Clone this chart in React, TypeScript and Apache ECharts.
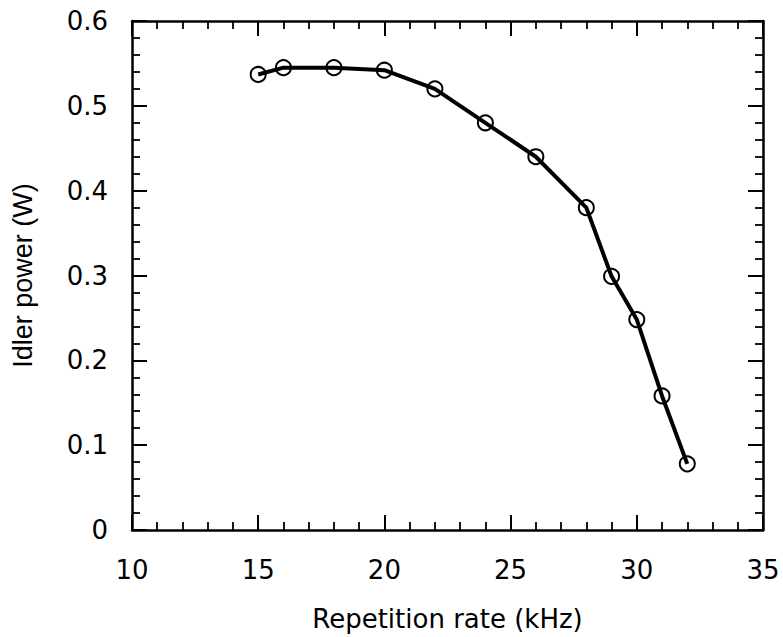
import React, { useEffect, useRef } from "react";
import * as echarts from "echarts";

const repRate = [15, 16, 18, 20, 22, 24, 26, 28, 29, 30, 31, 32];
const idlerPower = [0.537, 0.545, 0.545, 0.542, 0.52, 0.48, 0.44, 0.38, 0.299, 0.248, 0.158, 0.078];
const xTickLabels = ["10", "15", "20", "25", "30", "35"];
const yTickLabels = ["0", "0.1", "0.2", "0.3", "0.4", "0.5", "0.6"];

const WIDE_FONT = "DejaVu Sans, Liberation Sans, Arial, sans-serif";
const FONT = "Liberation Sans, Arial, Helvetica, sans-serif";

export default function App() {
  const ref = useRef<HTMLDivElement>(null);
  useEffect(() => {
    if (!ref.current) return;
    const chart = echarts.init(ref.current, null, { renderer: "svg" });
    const lineStyle = { color: "#000", width: 2.5 };
    const tick = { show: true, inside: true, length: 15, lineStyle: { color: "#000", width: 2 } };
    const minor = { show: true, splitNumber: 5, length: 8, lineStyle: { color: "#000", width: 1.8 } };
    const baseX = {
      type: "value" as const,
      min: 10,
      max: 35,
      interval: 5,
      splitLine: { show: false },
      axisLine: { show: true, onZero: false, lineStyle },
      axisTick: tick,
      minorTick: minor,
    };
    const baseY = {
      type: "value" as const,
      min: 0,
      max: 0.6,
      interval: 0.1,
      splitLine: { show: false },
      axisLine: { show: true, onZero: false, lineStyle },
      axisTick: tick,
      minorTick: minor,
    };
    chart.setOption({
      animation: false,
      backgroundColor: "#fff",
      grid: { left: 132, right: 20, top: 21, bottom: 107, containLabel: false },
      xAxis: [
        {
          ...baseX,
          position: "bottom",
          name: "Repetition rate (kHz)",
          nameLocation: "middle",
          nameGap: 76,
          nameTextStyle: { color: "#000", fontSize: 26, fontFamily: WIDE_FONT },
          axisLabel: {
            color: "#000",
            fontSize: 26,
            fontFamily: WIDE_FONT,
            margin: 27,
            formatter: (v: number) => xTickLabels[Math.round((v - 10) / 5)] ?? "",
          },
        },
        { ...baseX, position: "top", axisLabel: { show: false } },
      ],
      yAxis: [
        {
          ...baseY,
          position: "left",
          name: "Idler power (W)",
          nameLocation: "middle",
          nameGap: 96,
          nameTextStyle: { color: "#000", fontSize: 27, fontFamily: FONT },
          axisLabel: {
            color: "#000",
            fontSize: 26,
            fontFamily: WIDE_FONT,
            margin: 24,
            formatter: (v: number) => yTickLabels[Math.round(v * 10)] ?? "",
          },
        },
        { ...baseY, position: "right", axisLabel: { show: false } },
      ],
      series: [
        {
          type: "line",
          data: repRate.map((x, i) => [x, idlerPower[i]]),
          symbol: "circle",
          symbolSize: 15,
          showAllSymbol: true,
          lineStyle: { color: "#000", width: 4 },
          itemStyle: { color: "rgba(0,0,0,0)", borderColor: "#000", borderWidth: 2 },
          z: 3,
        },
      ],
    });
    return () => chart.dispose();
  }, []);
  return (
    <div
      ref={ref}
      style={{ position: "fixed", left: 0, top: 0, width: 783, height: 637, background: "#fff" }}
    />
  );
}
